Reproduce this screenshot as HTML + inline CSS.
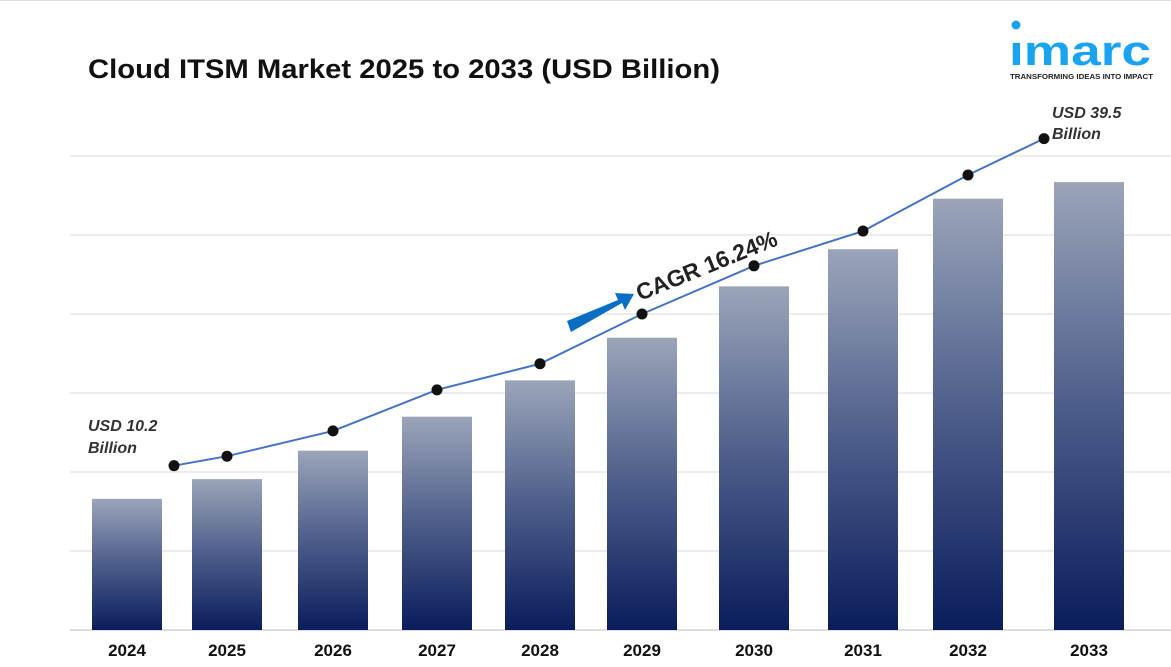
<!DOCTYPE html>
<html><head><meta charset="utf-8"><style>
body{margin:0;background:#fff;width:1171px;height:667px;overflow:hidden;font-family:"Liberation Sans",Arial,sans-serif}
svg{display:block}
</style></head><body>
<svg id="chart" width="1171" height="667" viewBox="0 0 1171 667">
<defs>
<linearGradient id="bg" x1="0" y1="0" x2="0" y2="1">
<stop offset="0" stop-color="#9ba4b9"/><stop offset="0.5" stop-color="#4d5d8a"/><stop offset="1" stop-color="#0a1d5c"/>
</linearGradient>
</defs>
<line x1="0" y1="0.5" x2="1171" y2="0.5" stroke="#ddd"/>
<text x="88" y="78" font-size="27" font-weight="bold" fill="#111" textLength="632" lengthAdjust="spacingAndGlyphs">Cloud ITSM Market 2025 to 2033 (USD Billion)</text>
<g>
<circle cx="1016" cy="25" r="4.5" fill="#1aa3f0"/>
<text x="1009" y="65" font-size="42" font-weight="bold" fill="#1aa3f0" textLength="142" lengthAdjust="spacingAndGlyphs">ımarc</text>
<text x="1010" y="79" font-size="7.5" font-weight="bold" fill="#222" textLength="143" lengthAdjust="spacingAndGlyphs">TRANSFORMING IDEAS INTO IMPACT</text>
</g>
<g id="grid"></g><g id="bars"></g><g id="line"></g><g id="labels"></g>
<g>
<polygon points="567,321 618,300 615,293 634,294 625,310 622,303 571,332" fill="#0a6fc2"/>
<text x="640" y="301" font-size="23" font-weight="bold" fill="#222" transform="rotate(-22 640 301)" textLength="150" lengthAdjust="spacing">CAGR  16.24%</text>
</g>
<text font-size="16" font-weight="bold" font-style="italic" fill="#333"><tspan x="88" y="431">USD 10.2</tspan><tspan x="88" y="453">Billion</tspan></text>
<text font-size="16" font-weight="bold" font-style="italic" fill="#333"><tspan x="1052" y="118">USD 39.5</tspan><tspan x="1052" y="139">Billion</tspan></text>
</svg>
<script>
const years=["2024","2025","2026","2027","2028","2029","2030","2031","2032","2033"];
const barValues=[1.66,1.91,2.27,2.70,3.16,3.70,4.35,4.82,5.46,5.67];
const lineValues=[2.08,2.20,2.52,3.04,3.37,4.00,4.61,5.05,5.76,6.22];
const gridTicks=[0,1,2,3,4,5,6];
const ns="http://www.w3.org/2000/svg";
const base=630,unit=79;
const y=v=>base-v*unit;
const centers=[127,227,333,437,540,642,754,863,968,1089];
const lineX=i=>i===0?centers[0]+47:(i===years.length-1?centers[i]-45:centers[i]);
function mk(t,a,p){const e=document.createElementNS(ns,t);for(const k in a)e.setAttribute(k,a[k]);p.appendChild(e);return e;}
const G=document.getElementById('grid'),B=document.getElementById('bars'),L=document.getElementById('line'),T=document.getElementById('labels');
gridTicks.forEach(t=>{const l=mk('line',{x1:70,x2:1171,y1:y(t),y2:y(t),stroke:t===0?'#bbb':'#d9d9d9','stroke-width':1},G);

});
years.forEach((yr,i)=>{const r=mk('rect',{x:centers[i]-35,y:y(barValues[i]),width:70,height:barValues[i]*unit,fill:'url(#bg)'},B);


const tx=mk('text',{x:centers[i],y:656,'text-anchor':'middle','font-size':17,'font-weight':'bold',fill:'#111'},T);tx.textContent=yr;

});
const pts=lineValues.map((v,i)=>lineX(i)+','+y(v)).join(' ');
const pl=mk('polyline',{points:pts,fill:'none',stroke:'#4472c4','stroke-width':2},L);


lineValues.forEach((v,i)=>{const c=mk('circle',{cx:lineX(i),cy:y(v),r:5.5,fill:'#111'},L);

});
</script>
</body></html>
